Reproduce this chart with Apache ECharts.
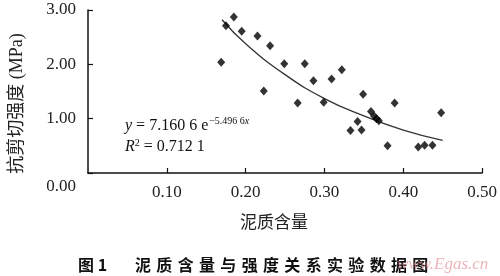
<!DOCTYPE html>
<html>
<head>
<meta charset="utf-8">
<script src="https://cdn.jsdelivr.net/npm/echarts@6/dist/echarts.min.js"></script>
<style>
html,body{margin:0;padding:0;background:#fff;}
#chart{width:500px;height:276px;}
</style>
</head>
<body>
<div id="chart"></div>
<script>
// Data
var clayContent = [0.169, 0.175, 0.185, 0.195, 0.215, 0.231, 0.223, 0.249, 0.275, 0.286,
                   0.266, 0.299, 0.309, 0.322, 0.349, 0.389, 0.448, 0.359, 0.363, 0.366,
                   0.369, 0.342, 0.333, 0.347, 0.380, 0.419, 0.427, 0.437];
var shearStrength = [2.04, 2.71, 2.87, 2.61, 2.52, 2.34, 1.51, 2.01, 2.01, 1.70,
                     1.29, 1.30, 1.73, 1.90, 1.45, 1.29, 1.11, 1.13, 1.05, 1.00,
                     0.96, 0.95, 0.78, 0.79, 0.50, 0.48, 0.51, 0.51];
// Trend curve points
var trendX = [0.17, 0.20, 0.25, 0.30, 0.35, 0.40, 0.45];
var trendY = [2.82, 2.38, 1.81, 1.37, 1.05, 0.79, 0.60];
var xTicks = [0.10, 0.20, 0.30, 0.40, 0.50];
var yTicks = [0.00, 1.00, 2.00, 3.00];

var scatterData = clayContent.map(function (x, i) { return [x, shearStrength[i]]; });
var trendData = trendX.map(function (x, i) { return [x, trendY[i]]; });

var serif = '"Liberation Serif", "Times New Roman", serif';
var cjk = '"Noto Sans CJK SC", sans-serif';

var chart = echarts.init(document.getElementById('chart'), null, {renderer: 'canvas'});
chart.setOption({
  animation: false,
  backgroundColor: '#fff',
  grid: {left: 86, right: 16, top: 10, bottom: 103, containLabel: false},
  xAxis: {
    type: 'value', min: 0, max: 0.5, interval: 0.1,
    name: '泥质含量', nameLocation: 'middle', nameGap: 40,
    nameTextStyle: {fontFamily: cjk, fontSize: 17, color: '#222', padding: [0, 22, 0, 0]},
    axisLine: {show: true, onZero: false, lineStyle: {color: '#111', width: 1.5}},
    axisTick: {show: true, inside: true, length: 5, lineStyle: {color: '#111', width: 1.2}},
    axisLabel: {
      showMinLabel: false, margin: 11, fontFamily: serif, fontSize: 17, color: '#222',
      formatter: function (v) {
        for (var i = 0; i < xTicks.length; i++) if (Math.abs(xTicks[i] - v) < 1e-9) return xTicks[i].toFixed(2);
        return '';
      }
    },
    splitLine: {show: false}
  },
  yAxis: {
    type: 'value', min: 0, max: 3, interval: 1,
    name: '抗剪切强度 (MPa)', nameLocation: 'middle', nameGap: 62, nameRotate: 90,
    nameTextStyle: {fontFamily: serif + ',' + cjk, fontSize: 18, color: '#222', padding: [0, 24, 0, 0]},
    axisLine: {show: true, lineStyle: {color: '#111', width: 1.5}},
    axisTick: {show: true, inside: true, length: 5, lineStyle: {color: '#111', width: 1.2}},
    axisLabel: {
      margin: 12, fontFamily: serif, fontSize: 17, color: '#222',
      formatter: function (v) {
        for (var i = 0; i < yTicks.length; i++) {
          if (Math.abs(yTicks[i] - v) < 1e-9) {
            return yTicks[i] === 0 ? '{z|' + yTicks[i].toFixed(2) + '}' : yTicks[i].toFixed(2);
          }
        }
        return '';
      },
      rich: {z: {fontFamily: serif, fontSize: 17, color: '#222', padding: [28, 0, 0, 0]}}
    },
    splitLine: {show: false}
  },
  series: [
    {
      type: 'line', data: trendData, smooth: true, showSymbol: false,
      lineStyle: {color: '#333', width: 1.3}, z: 2
    },
    {
      type: 'scatter', data: scatterData, symbol: 'diamond', symbolSize: [8, 9],
      itemStyle: {color: '#000'}, z: 3
    }
  ],
  graphic: [
    {
      type: 'text', left: 125, top: 116,
      style: {
        text: '{i|y} = 7.160 6 e{s|\u22125.496 6}{si|x}',
        font: '16px ' + serif, fill: '#111',
        rich: {
          i: {fontFamily: serif, fontStyle: 'italic', fontSize: 16, fill: '#111'},
          s: {fontFamily: serif, fontSize: 10, fill: '#111', padding: [0, 0, 9, 1]},
          si: {fontFamily: serif, fontStyle: 'italic', fontSize: 10, fill: '#111', padding: [0, 0, 9, 0]}
        }
      }
    },
    {
      type: 'text', left: 125, top: 138,
      style: {
        text: '{i|R}{s|2} = 0.712 1',
        font: '16px ' + serif, fill: '#111',
        rich: {
          i: {fontFamily: serif, fontStyle: 'italic', fontSize: 16, fill: '#111'},
          s: {fontFamily: serif, fontSize: 10, fill: '#111', padding: [0, 0, 7, 0]}
        }
      }
    },
    {
      type: 'text', left: 78, top: 257,
      style: {text: '图 1', font: 'bold 16px ' + cjk, fill: '#111'}
    },
    {
      type: 'text', left: 135, top: 257,
      style: {text: '泥\u2004质\u2004含\u2004量\u2004与\u2004强\u2004度\u2004关\u2004系\u2004实\u2004验\u2004数\u2004据\u2004图', font: 'bold 16px ' + cjk, fill: '#111'}
    },
    {
      type: 'text', left: 397, top: 256,
      style: {text: 'www.Egas.cn', font: 'italic 17px ' + serif, fill: 'rgba(222,120,130,0.55)'}
    }
  ]
});
</script>
</body>
</html>
